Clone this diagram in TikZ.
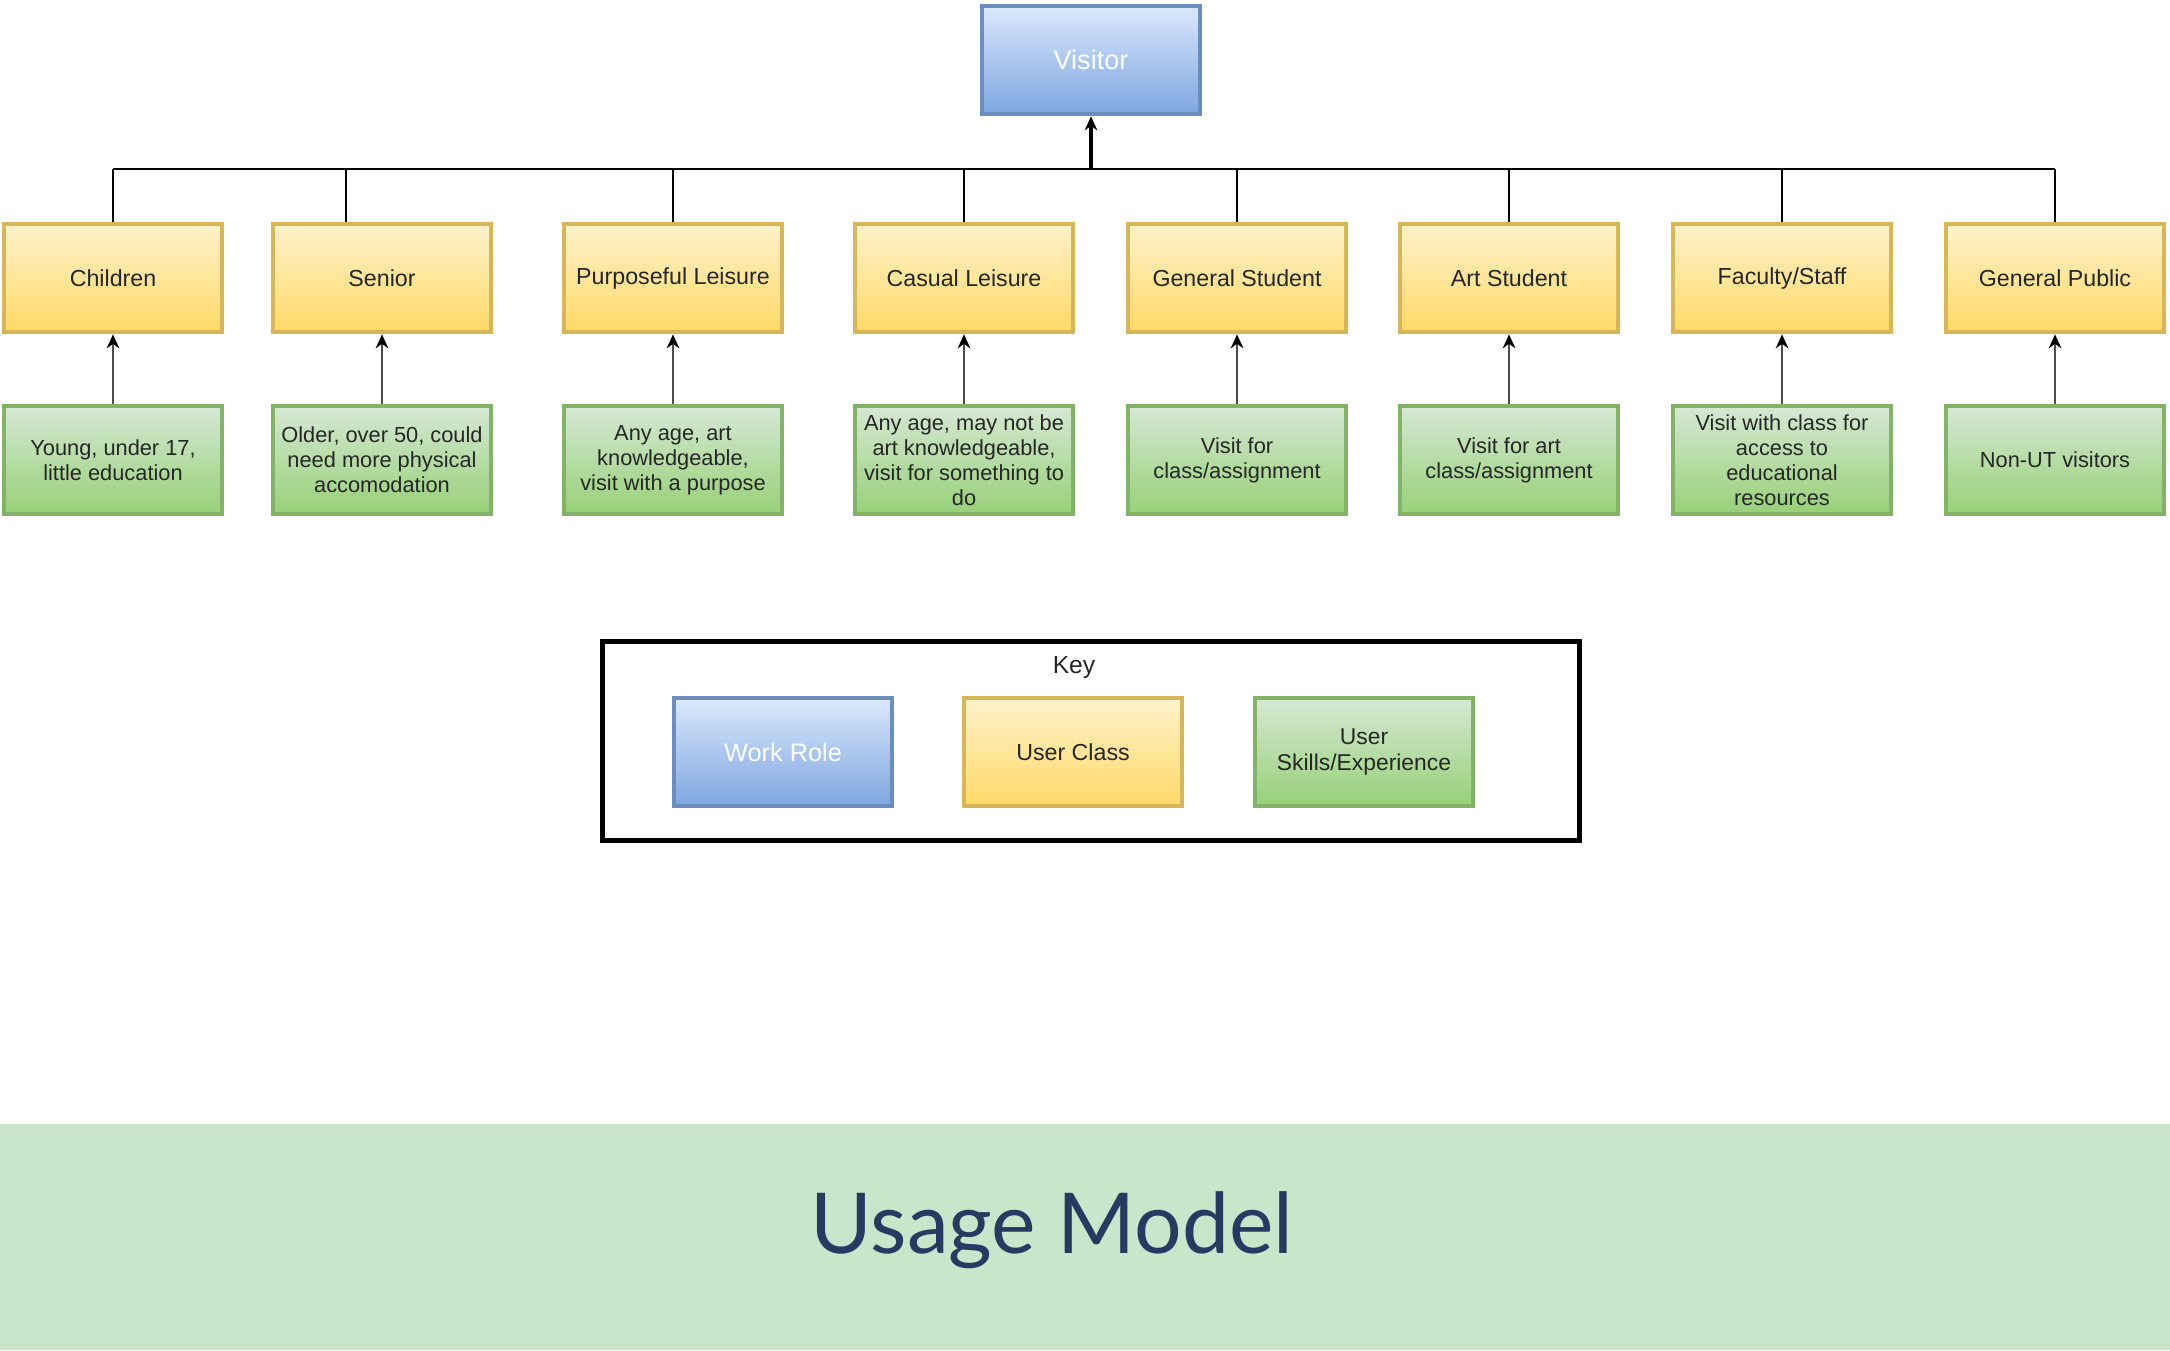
\documentclass[tikz,border=0pt]{standalone}
\usepackage{fontspec}
\setmainfont{Liberation Sans}
\newfontfamily\titlefont{Lato}
\usepackage{tikz}
\usetikzlibrary{arrows.meta,positioning,shapes}
\usepackage{xcolor}

\definecolor{roleTop}{HTML}{DAE8FC}
\definecolor{roleBot}{HTML}{7EA6E0}
\definecolor{roleLine}{HTML}{6C8EBF}
\definecolor{classTop}{HTML}{FFF2CC}
\definecolor{classBot}{HTML}{FFD966}
\definecolor{classLine}{HTML}{D6B656}
\definecolor{skillTop}{HTML}{D5E8D4}
\definecolor{skillBot}{HTML}{97D077}
\definecolor{skillLine}{HTML}{82B366}
\definecolor{bandGreen}{HTML}{C9E6CB}
\definecolor{titleBlue}{HTML}{283A62}

\begin{document}
\begin{tikzpicture}[x=0.01cm, y=-0.01cm,
  box/.style={rectangle, line width=1.3pt, minimum width=2.18cm, minimum height=1.08cm, inner sep=1pt, align=center},
  role/.style={box, draw=roleLine, top color=roleTop, bottom color=roleBot, text=white, font=\fontsize{7.7}{9}\selectfont},
  uclass/.style={box, draw=classLine, top color=classTop, bottom color=classBot, text=black!85, font=\fontsize{6.6}{7.5}\selectfont},
  skill/.style={box, draw=skillLine, top color=skillTop, bottom color=skillBot, text=black!85, font=\fontsize{6.2}{7.1}\selectfont},
  up/.style={-{Stealth[length=4pt,width=3.6pt,color=black]}, draw=black!70, line width=0.6pt}]
  \useasboundingbox (0,0) rectangle (2170,1350);
  \fill[bandGreen] (0,1124) rectangle (2170,1350);

  \node[role] (visitor) at (1091,60) {Visitor};
  \coordinate (bus) at (1091,169);

  \foreach \n/\x/\dx/\cls/\skl in {
    1/113/113/Children/{Young, under 17,\\little education},
    2/382/346/Senior/{Older, over 50, could\\need more physical\\accomodation},
    3/673/673/Purposeful Leisure/{Any age, art\\knowledgeable,\\visit with a purpose},
    4/964/964/Casual Leisure/{Any age, may not be\\art knowledgeable,\\visit for something to\\do},
    5/1237/1237/General Student/{Visit for\\class/assignment},
    6/1509/1509/Art Student/{Visit for art\\class/assignment},
    7/1782/1782/{Faculty/Staff}/{Visit with class for\\access to\\educational\\resources},
    8/2055/2055/General Public/{Non-UT visitors}} {
    \node[uclass] (c\n) at (\x,278) {\cls};
    \node[skill] (s\n) at (\x,460) {\skl};
    \draw[up] (s\n) -- (c\n);
    \draw[line width=0.45pt] (c\n.north -| \dx,0) -- (bus -| \dx,0);
  }
  \draw[line width=0.45pt] (bus -| c1) -- (bus -| c8);
  \draw[-{Stealth[length=4pt,width=3.6pt]}, line width=0.9pt] (bus) -- (visitor);

  % key
  \node[draw, line width=1.4pt, minimum width=9.77cm, minimum height=1.99cm] (keybox) at (1091,741) {};
  \node[font=\fontsize{7}{8}\selectfont, text=black!85] (keylbl) at (1074,668) {Key};
  \node[role, font=\fontsize{7.2}{8.5}\selectfont] (kRole) at (783,752) {Work Role};
  \node[uclass] (kClass) at (1073,752) {User Class};
  \node[skill, font=\fontsize{6.5}{7.5}\selectfont] (kSkill) at (1364,752) {User\\Skills/Experience};

  \node[font=\titlefont\fontsize{23.9}{28}\selectfont, text=titleBlue, anchor=base] (title) at (1052,1253) {Usage Model};
\end{tikzpicture}
\end{document}
